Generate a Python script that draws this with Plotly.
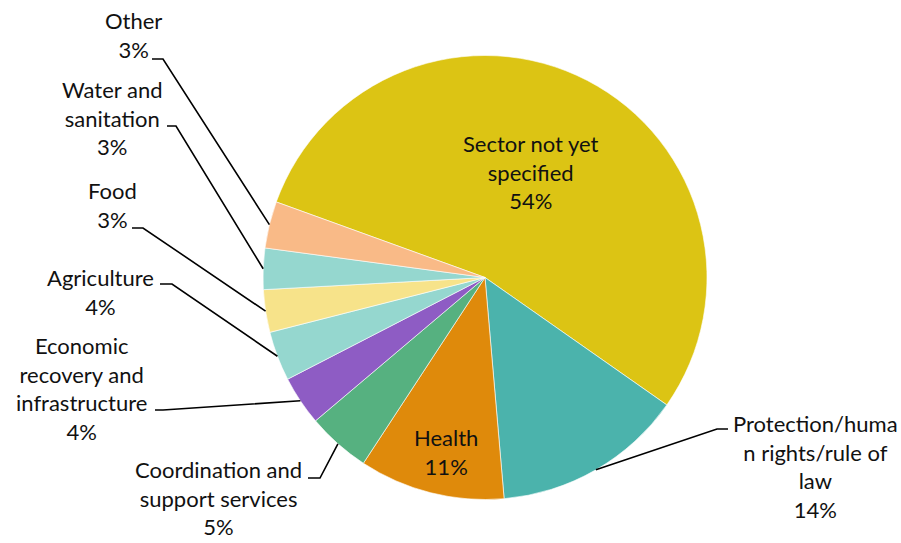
import math
import plotly.graph_objects as go

# ---- data ----
categories = [
    "Sector not yet specified",
    "Protection/human rights/rule of law",
    "Health",
    "Coordination and support services",
    "Economic recovery and infrastructure",
    "Agriculture",
    "Food",
    "Water and sanitation",
    "Other",
]
display_labels = [
    "Sector not yet<br>specified",
    "Protection/huma<br>n rights/rule of<br>law",
    "Health",
    "Coordination and<br>support services",
    "Economic<br>recovery and<br>infrastructure",
    "Agriculture",
    "Food",
    "Water and<br>sanitation",
    "Other",
]
values = [54.2, 13.9, 10.6, 4.6, 3.6, 3.6, 3.1, 3.0, 3.4]
colors = ["#DCC414", "#4BB3AC", "#DF8A0B", "#56B180", "#8E5CC4",
          "#95D7CF", "#F7E38A", "#95D7CF", "#F9BA87"]

# ---- layout / style ----
W, H = 901, 543
CX, CY, R = 485, 277.5, 222
ROTATION = 289.9  # start angle of first slice, clockwise from 12 o'clock
FONT = "Lato"
FSIZE = 22

# label placement (pixel coords): text centre, and leader line start/elbow (None for inside)
label_pos = [
    (531, 172, None),
    (815, 466, ((728, 429), (717, 429))),
    (446, 452, None),
    (218, 498, ((308, 478), (320, 478))),
    (81, 389, ((155, 410), (163, 410))),
    (100, 292, ((160, 284), (172, 284))),
    (112, 205, ((132, 228), (143, 228))),
    (112, 118, ((167, 126), (176, 126))),
    (133, 35, ((152, 59), (163, 59))),
]

fig = go.Figure(go.Pie(
    labels=categories,
    values=values,
    sort=False,
    direction="clockwise",
    rotation=ROTATION,
    marker=dict(colors=colors, line=dict(color="white", width=0.6)),
    textinfo="none",
    hoverinfo="label+percent",
    showlegend=False,
    domain=dict(x=[(CX - R) / W, (CX + R) / W],
                y=[(H - CY - R) / H, (H - CY + R) / H]),
))

def px2paper(x, y):
    return x / W, 1 - y / H

total = sum(values)
angle = ROTATION
annotations = []
shapes = []
for lab, v, pos in zip(display_labels, values, label_pos):
    span = v / total * 360
    mid = math.radians(angle + span / 2)
    angle += span
    pct = round(v / total * 100)
    tx, ty, leader = pos
    px, py = px2paper(tx, ty)
    annotations.append(dict(
        x=px, y=py, xref="paper", yref="paper", showarrow=False,
        text=f"{lab}<br>{pct}%", align="center",
        xanchor="center", yanchor="middle", borderpad=0,
        font=dict(family=FONT, size=FSIZE, color="#111111"),
    ))
    if leader:
        ax = CX + R * math.sin(mid)
        ay = CY - R * math.cos(mid)
        pts = [leader[0], leader[1], (ax, ay)]
        path = ""
        for i, (x, y) in enumerate(pts):
            qx, qy = px2paper(x, y)
            path += ("M" if i == 0 else " L") + f"{qx:.5f},{qy:.5f}"
        shapes.append(dict(type="path", path=path, xref="paper", yref="paper",
                           line=dict(color="black", width=1.6)))

fig.update_layout(
    width=W, height=H,
    margin=dict(l=0, r=0, t=0, b=0),
    paper_bgcolor="white",
    plot_bgcolor="white",
    annotations=annotations,
    shapes=shapes,
)

fig.write_html(
    "out.html",
    config={"displayModeBar": False},
    post_script="document.body.style.margin='0';"
                "document.documentElement.style.overflow='hidden';",
)
